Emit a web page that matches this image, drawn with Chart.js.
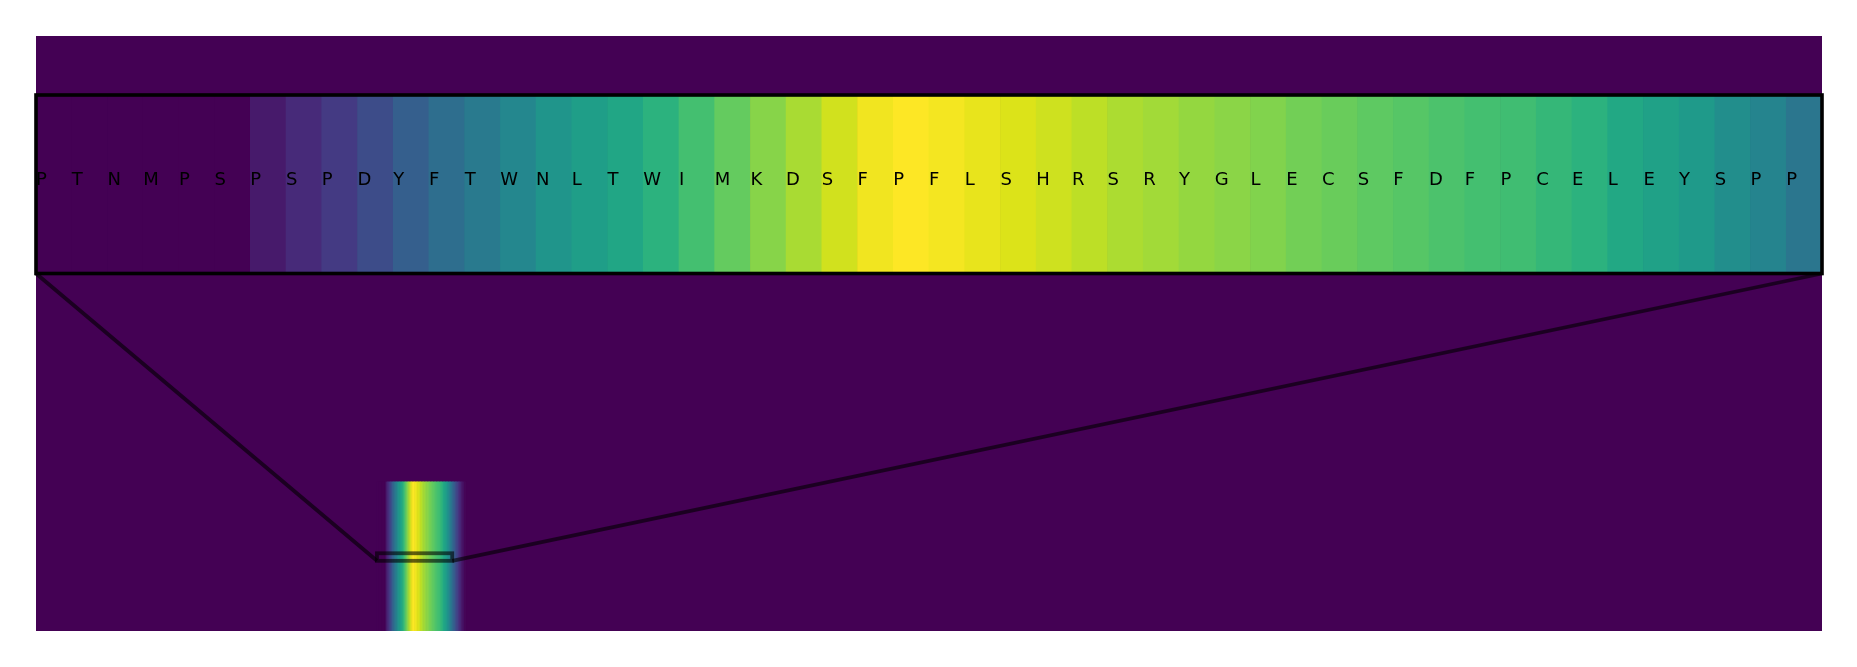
<!DOCTYPE html>
<html><head><meta charset="utf-8">
<script src="https://cdn.jsdelivr.net/npm/chart.js@4.4.1/dist/chart.umd.min.js"></script>
<style>
html,body{margin:0;padding:0;background:#fff;}
#wrap{position:relative;width:1857px;height:667px;overflow:hidden;}
#wrap canvas{position:absolute;left:0;top:0;}
</style></head><body>
<div id="wrap"><canvas id="main" width="1857" height="667"></canvas><canvas id="inset" width="1857" height="667"></canvas></div>
<script>
// ---- data ----
const residues = ['P','T','N','M','P','S','P','S','P','D','Y','F','T','W','N','L','T','W','I','M',
  'K','D','S','F','P','F','L','S','H','R','S','R','Y','G','L','E','C','S','F','D',
  'F','P','C','E','L','E','Y','S','P','P'];
const insetValues = [0,0,0,0,0,0,0.07,0.12,0.17,0.23,0.30,0.36,0.41,0.46,0.52,0.56,0.59,0.64,0.70,0.76,
  0.82,0.87,0.93,0.98,1.0,0.985,0.965,0.945,0.925,0.90,0.875,0.86,0.84,0.825,0.81,0.785,0.77,0.75,0.735,0.715,
  0.70,0.69,0.665,0.64,0.60,0.57,0.54,0.49,0.45,0.39];
const tailValues = [0.34,0.29,0.24,0.19,0.15,0.11,0.07,0.04,0.01];
const stripRows = [0, 99];
const zoomCols = [0, 50];
const zoomRows = [46.6, 51.6];
const mainXRange = [-226.4, 959.6];
const mainYRange = [0, 395];

// ---- viridis colormap ----
const VIR = ['#440154','#471365','#482475','#463480','#414487','#3b528b','#355f8d','#2f6c8e','#2a788e','#25848e',
  '#21918c','#1e9c89','#22a884','#2fb47c','#44bf70','#5ec962','#7ad151','#9bd93c','#bddf26','#dfe318','#fde725'];
function hex(h){return [parseInt(h.slice(1,3),16),parseInt(h.slice(3,5),16),parseInt(h.slice(5,7),16)];}
const VIRRGB = VIR.map(hex);
function viridis(v){
  v = Math.max(0, Math.min(1, v));
  const f = v*(VIRRGB.length-1);
  const i = Math.min(Math.floor(f), VIRRGB.length-2);
  const t = f - i;
  const a = VIRRGB[i], b = VIRRGB[i+1];
  const c = a.map((x,k)=>Math.round(x + (b[k]-x)*t));
  return 'rgb(' + c.join(',') + ')';
}

const stripValues = insetValues.concat(tailValues);

// ---- inset chart ----
const insetCtx = document.getElementById('inset').getContext('2d');
const insetPlugin = {
  id: 'insetDecor',
  afterDatasetsDraw(chart){
    const {ctx, chartArea, scales} = chart;
    const xs = scales.x, ys = scales.y;
    const cellW = chartArea.width / residues.length;
    ctx.save();
    ctx.font = '18px "DejaVu Sans"';
    ctx.fillStyle = '#000';
    ctx.textAlign = 'left';
    ctx.textBaseline = 'alphabetic';
    residues.forEach((r,i)=>{
      ctx.fillText(r, xs.getPixelForValue(i) - cellW/2, ys.getPixelForValue(0) + 0.8);
    });
    ctx.lineWidth = 3.6;
    ctx.strokeStyle = '#000';
    ctx.strokeRect(chartArea.left, chartArea.top, chartArea.width, chartArea.height);
    ctx.restore();
  }
};
const insetChart = new Chart(insetCtx, {
  type: 'bar',
  data: {
    labels: residues,
    datasets: [{
      data: insetValues.map(()=>[-0.5, 0.5]),
      backgroundColor: insetValues.map(viridis),
      borderWidth: 0,
      barPercentage: 1.0,
      categoryPercentage: 1.0
    }]
  },
  options: {
    responsive: false, animation: false, devicePixelRatio: 1,
    layout: {padding: {left: 36, right: 35, top: 95, bottom: 393.5}},
    scales: {
      x: {display: false},
      y: {display: false, min: -0.5, max: 0.5}
    },
    plugins: {legend: {display: false}, tooltip: {enabled: false}}
  },
  plugins: [insetPlugin]
});

// ---- main chart ----
const mainCtx = document.getElementById('main').getContext('2d');
const mainPlugin = {
  id: 'mainDecor',
  beforeDatasetsDraw(chart){
    const {ctx, chartArea} = chart;
    ctx.save();
    ctx.fillStyle = viridis(0);
    ctx.fillRect(chartArea.left, chartArea.top, chartArea.width, chartArea.height);
    ctx.restore();
  },
  afterDatasetsDraw(chart){
    const {ctx, scales} = chart;
    const xs = scales.x, ys = scales.y;
    const x0 = xs.getPixelForValue(zoomCols[0]), x1 = xs.getPixelForValue(zoomCols[1]);
    const y0 = ys.getPixelForValue(zoomRows[0]), y1 = ys.getPixelForValue(zoomRows[1]);
    ctx.save();
    ctx.strokeStyle = 'rgba(0,0,0,0.6)';
    ctx.lineWidth = 3.8;
    ctx.strokeRect(x0, y1, x1 - x0, y0 - y1);
    if (typeof insetChart !== 'undefined' && insetChart.chartArea) {
      const ia = insetChart.chartArea;
      ctx.beginPath();
      ctx.moveTo(ia.left, ia.bottom); ctx.lineTo(x0, y0);
      ctx.moveTo(ia.right, ia.bottom); ctx.lineTo(x1, y0);
      ctx.stroke();
    }
    ctx.restore();
  }
};
const mainChart = new Chart(mainCtx, {
  type: 'bar',
  data: {
    datasets: [{
      data: stripValues.map((v,i)=>({x: zoomCols[0] + i + 0.5, y: stripRows.slice()})),
      backgroundColor: stripValues.map(viridis),
      borderWidth: 0,
      barPercentage: 1.0,
      categoryPercentage: 1.0
    }]
  },
  options: {
    responsive: false, animation: false, devicePixelRatio: 1,
    layout: {padding: {left: 36, right: 35, top: 36, bottom: 36}},
    scales: {
      x: {type: 'linear', display: false, offset: false, min: mainXRange[0], max: mainXRange[1]},
      y: {type: 'linear', display: false, min: mainYRange[0], max: mainYRange[1]}
    },
    plugins: {legend: {display: false}, tooltip: {enabled: false}}
  },
  plugins: [mainPlugin]
});
</script>
</body></html>
